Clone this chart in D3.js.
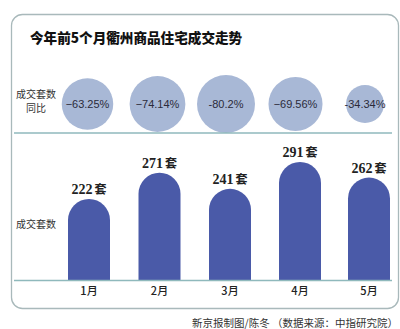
<!DOCTYPE html>
<html><head><meta charset="utf-8">
<script src="https://cdn.jsdelivr.net/npm/d3@7"></script>
<style>body{margin:0;background:#fff}svg{display:block}</style>
</head><body>
<svg id="c" width="400" height="329"></svg>
<script>
const months = ["1月","2月","3月","4月","5月"];
const counts = [222, 271, 241, 291, 262];
const yoy = [-63.25, -74.14, -80.2, -69.56, -34.34];
const yoyLabels = ["\u221263.25%","\u221274.14%","-80.2%","\u221269.56%","-34.34%"];
const title = "今年前5个月衢州商品住宅成交走势";
const source = "新京报制图/陈冬 （数据来源：中指研究院）";

const svg = d3.select("#c");
const cjk = "'Noto Sans CJK SC', sans-serif";

svg.append("rect").attr("x",11.5).attr("y",14.5).attr("width",387).attr("height",294)
  .attr("rx",11).attr("fill","none").attr("stroke","#a9b9bb").attr("stroke-width",1.3);

svg.append("text").attr("x",30).attr("y",43).text(title)
  .attr("font-family",cjk).attr("font-weight",900).attr("font-size",13.6).attr("fill","#111");

// circles (area proportional to |yoy|)
const r = d3.scaleSqrt().domain([0, 80.2]).range([0, 29]);
const cy = 104;
const cxs = d3.scaleOrdinal().domain(months).range([87.5, 157.5, 226, 295.5, 365]);
const g1 = svg.append("g");
g1.selectAll("circle").data(yoy).join("circle")
  .attr("cx",(d,i)=>cxs(months[i])).attr("cy",cy).attr("r",d=>r(Math.abs(d)))
  .attr("fill","#a8b8d6");
g1.selectAll("text").data(yoyLabels).join("text")
  .attr("x",(d,i)=>cxs(months[i])).attr("y",cy+4).attr("text-anchor","middle")
  .attr("font-family","'Liberation Sans', Arial, sans-serif").attr("font-size",11).attr("fill","#2b2b3a")
  .text(d=>d);

svg.append("text").attr("x",36).attr("y",98).attr("text-anchor","middle")
  .attr("font-family",cjk).attr("font-size",10).attr("fill","#333").text("成交套数");
svg.append("text").attr("x",36).attr("y",112).attr("text-anchor","middle")
  .attr("font-family",cjk).attr("font-size",10).attr("fill","#333").text("同比");

svg.append("line").attr("x1",14).attr("x2",392).attr("y1",133).attr("y2",133)
  .attr("stroke","#8fb9bc").attr("stroke-width",1.3);

// bars
const bx = d3.scaleOrdinal().domain(months).range([89, 159.5, 230, 300, 369]);
const bw = 42;
const y = d3.scaleLinear().domain([71, 291]).range([280, 162]);
const g2 = svg.append("g");
g2.selectAll("path").data(counts).join("path")
  .attr("d",(d,i)=>{
    const c = bx(months[i]), h = bw/2, top = y(d), base = y(71);
    return `M${c-h},${base}L${c-h},${top+h}A${h},${h} 0 0 1 ${c+h},${top+h}L${c+h},${base}Z`;
  })
  .attr("fill","#4a5aa8");
g2.selectAll("text").data(counts).join("text")
  .attr("x",(d,i)=>bx(months[i])).attr("y",d=>y(d)-5).attr("text-anchor","middle")
  .attr("fill","#222")
  .each(function(d){
    const t = d3.select(this);
    t.append("tspan").attr("font-family","'Liberation Serif', serif").attr("font-weight","bold").attr("font-size",14).text(d);
    t.append("tspan").attr("font-family",cjk).attr("font-weight","bold").attr("font-size",12).attr("dx",2).text("套");
  });

svg.append("line").attr("x1",14).attr("x2",392).attr("y1",280.5).attr("y2",280.5)
  .attr("stroke","#8fb9bc").attr("stroke-width",1.3);

const ax = svg.append("g").attr("transform","translate(0,295)");
ax.selectAll("text").data(months).join("text")
  .attr("x",d=>bx(d)).attr("y",0).attr("text-anchor","middle")
  .attr("font-family",cjk).attr("font-size",11).attr("font-weight",500).attr("fill","#222").text(d=>d);

svg.append("text").attr("x",36).attr("y",228).attr("text-anchor","middle")
  .attr("font-family",cjk).attr("font-size",10).attr("fill","#333").text("成交套数");

svg.append("text").attr("x",398).attr("y",327).attr("text-anchor","end")
  .attr("font-family",cjk).attr("font-size",10.5).attr("fill","#333").text(source);
</script>
</body></html>
